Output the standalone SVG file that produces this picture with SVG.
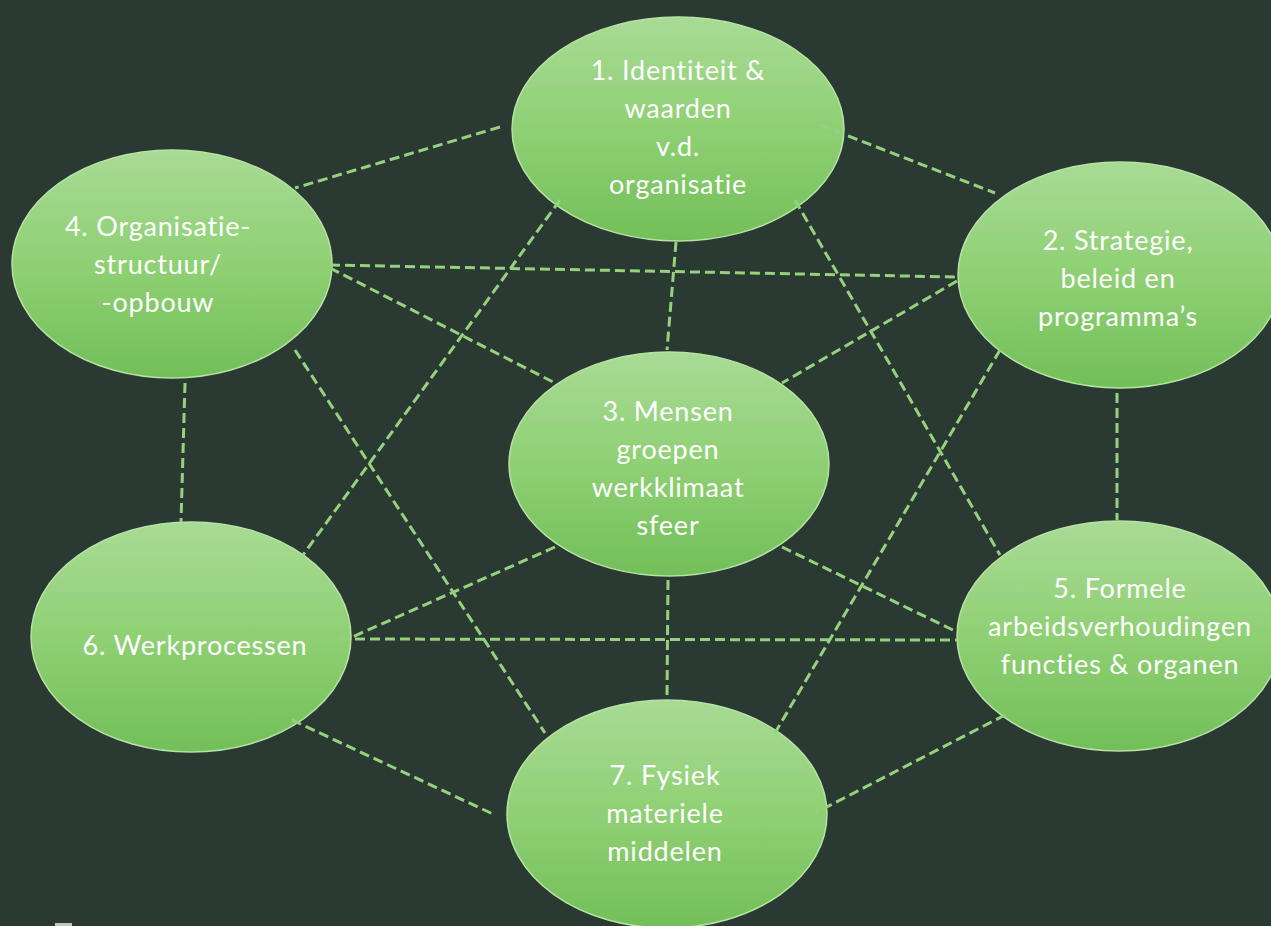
<svg xmlns="http://www.w3.org/2000/svg" width="1271" height="926" viewBox="0 0 1271 926">
<defs>
<linearGradient id="g" x1="0" y1="0" x2="0" y2="1">
<stop offset="0" stop-color="#a8db95"/>
<stop offset="0.5" stop-color="#8fd074"/>
<stop offset="1" stop-color="#72bf59"/>
</linearGradient>
</defs>
<style>
.bg{fill:#2a3932}
.node ellipse{fill:url(#g);stroke:#b7e2a4;stroke-width:1.5}
.node text{font-family:Lato,"Open Sans","Liberation Sans",sans-serif;font-size:27px;letter-spacing:0.8px;fill:#ffffff;text-anchor:middle}
.conn line{stroke:#95d27e;stroke-width:3;stroke-dasharray:10 5;fill:none}
</style>
<rect class="bg" x="0" y="0" width="1271" height="926"/>
<rect x="55" y="923" width="17" height="3" fill="#c4c4c4"/>
<g id="node1" class="node">
<ellipse cx="678" cy="129" rx="166" ry="112"/>
<text x="678" y="80">1. Identiteit &amp;</text>
<text x="678" y="118">waarden</text>
<text x="678" y="156">v.d.</text>
<text x="678" y="194">organisatie</text>
</g>
<g id="node4" class="node">
<ellipse cx="172" cy="264" rx="160" ry="114"/>
<text x="158" y="236">4. Organisatie-</text>
<text x="158" y="274">structuur/</text>
<text x="158" y="312">-opbouw</text>
</g>
<g id="node2" class="node">
<ellipse cx="1120" cy="275" rx="162" ry="113"/>
<text x="1118" y="250">2. Strategie,</text>
<text x="1118" y="288">beleid en</text>
<text x="1118" y="326">programma’s</text>
</g>
<g id="node3" class="node">
<ellipse cx="669" cy="464" rx="160" ry="112"/>
<text x="668" y="421">3. Mensen</text>
<text x="668" y="459">groepen</text>
<text x="668" y="497">werkklimaat</text>
<text x="668" y="535">sfeer</text>
</g>
<g id="node6" class="node">
<ellipse cx="191" cy="637" rx="160" ry="115"/>
<text x="195" y="655">6. Werkprocessen</text>
</g>
<g id="node5" class="node">
<ellipse cx="1119" cy="636" rx="162" ry="115"/>
<text x="1120" y="598">5. Formele</text>
<text x="1120" y="636">arbeidsverhoudingen</text>
<text x="1120" y="674">functies &amp; organen</text>
</g>
<g id="node7" class="node">
<ellipse cx="667" cy="814" rx="160" ry="114"/>
<text x="665" y="785">7. Fysiek</text>
<text x="665" y="823">materiele</text>
<text x="665" y="861">middelen</text>
</g>
<g id="connectors" class="conn">
<line x1="500" y1="127" x2="295" y2="188"/>
<line x1="820" y1="125" x2="995" y2="193"/>
<line x1="330" y1="265" x2="957" y2="277"/>
<line x1="676" y1="242" x2="667" y2="350"/>
<line x1="330" y1="268" x2="555" y2="383"/>
<line x1="957" y1="281" x2="782" y2="383"/>
<line x1="560" y1="200" x2="303" y2="555"/>
<line x1="795" y1="200" x2="1000" y2="555"/>
<line x1="295" y1="350" x2="545" y2="733"/>
<line x1="1000" y1="350" x2="775" y2="733"/>
<line x1="185" y1="383" x2="181" y2="522"/>
<line x1="1117" y1="393" x2="1117" y2="520"/>
<line x1="555" y1="547" x2="350" y2="638"/>
<line x1="782" y1="547" x2="957" y2="632"/>
<line x1="340" y1="639" x2="957" y2="640"/>
<line x1="668" y1="580" x2="667" y2="698"/>
<line x1="292" y1="720" x2="495" y2="815"/>
<line x1="1005" y1="715" x2="815" y2="813"/>
</g>
</svg>
